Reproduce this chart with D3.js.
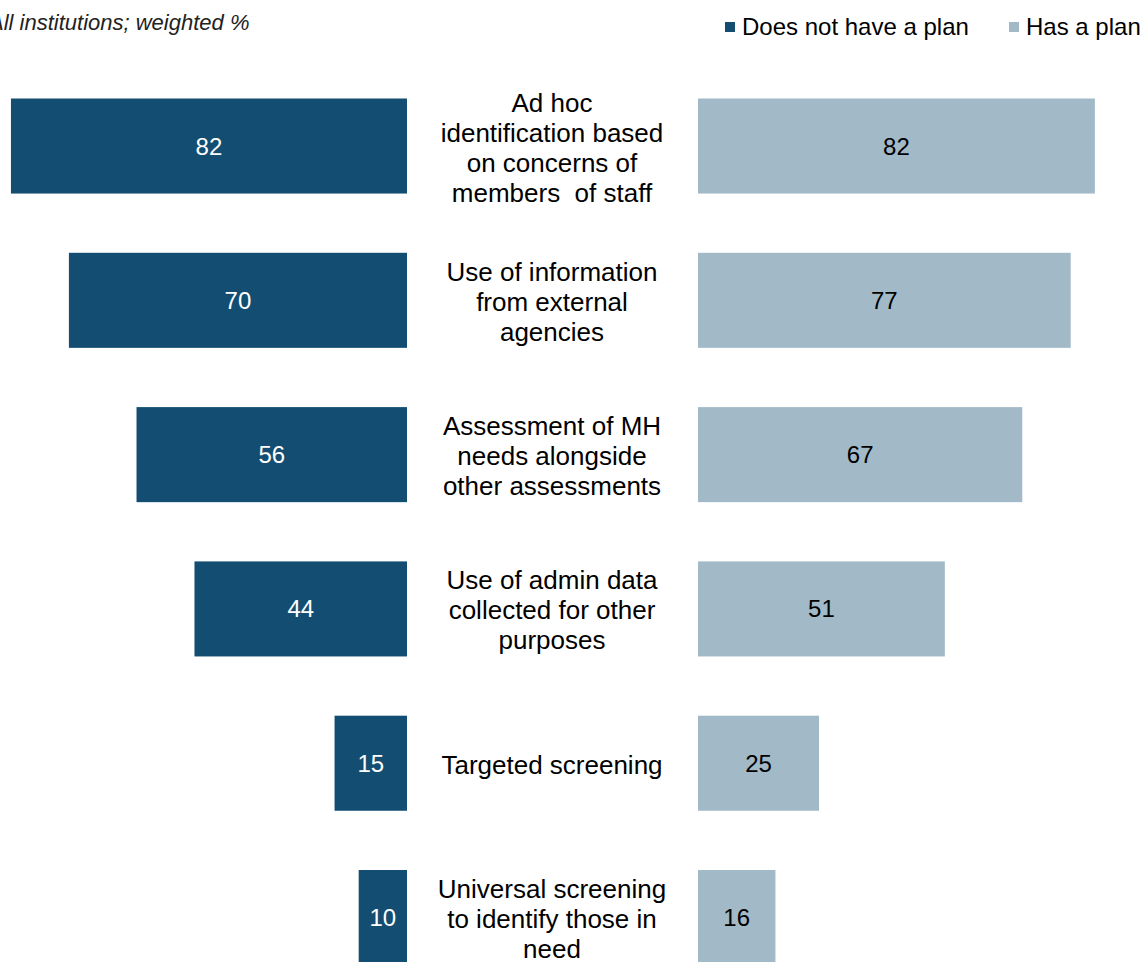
<!DOCTYPE html>
<html><head><meta charset="utf-8">
<script src="https://cdn.jsdelivr.net/npm/d3@7"></script>
<style>
html,body{margin:0;padding:0;background:#fff;overflow:hidden;}
text{font-family:"Liberation Sans",Arial,sans-serif;}
</style></head>
<body><svg id="c" width="1142" height="962"></svg>
<script>
const categories = [
  "Ad hoc identification based on concerns of members of staff",
  "Use of information from external agencies",
  "Assessment of MH needs alongside other assessments",
  "Use of admin data collected for other purposes",
  "Targeted screening",
  "Universal screening to identify those in need"
];
const categoryLines = [
  ["Ad hoc", "identification based", "on concerns of", "members  of staff"],
  ["Use of information", "from external", "agencies"],
  ["Assessment of MH", "needs alongside", "other assessments"],
  ["Use of admin data", "collected for other", "purposes"],
  ["Targeted screening"],
  ["Universal screening", "to identify those in", "need"]
];
const noPlan = [82, 70, 56, 44, 15, 10];
const hasPlan = [82, 77, 67, 51, 25, 16];
const seriesNames = ["Does not have a plan", "Has a plan"];
const subtitle = "All institutions; weighted %";

const colDark = "#134e72", colLight = "#a2b9c8";
const svg = d3.select("#c");

const y = d3.scaleBand().domain(categories).range([98.5, 98.5 + 154.3 * 5.616]).paddingInner(0.384).paddingOuter(0);
const xL = d3.scaleLinear().domain([0, 100]).range([407, 407 - 483]);
const xR = d3.scaleLinear().domain([0, 100]).range([698, 698 + 484]);

svg.selectAll("rect.l").data(categories).join("rect")
  .attr("class", "l")
  .attr("x", (d, i) => xL(noPlan[i]))
  .attr("width", (d, i) => xL(0) - xL(noPlan[i]))
  .attr("y", d => y(d)).attr("height", y.bandwidth())
  .attr("fill", colDark);
svg.selectAll("rect.r").data(categories).join("rect")
  .attr("class", "r")
  .attr("x", xR(0))
  .attr("width", (d, i) => xR(hasPlan[i]) - xR(0))
  .attr("y", d => y(d)).attr("height", y.bandwidth())
  .attr("fill", colLight);

svg.selectAll("text.vl").data(categories).join("text")
  .attr("class", "vl")
  .attr("x", (d, i) => (xL(noPlan[i]) + xL(0)) / 2)
  .attr("y", d => y(d) + y.bandwidth() / 2 + 8.5)
  .attr("text-anchor", "middle").attr("font-size", 24).attr("fill", "#fff")
  .text((d, i) => noPlan[i]);
svg.selectAll("text.vr").data(categories).join("text")
  .attr("class", "vr")
  .attr("x", (d, i) => (xR(hasPlan[i]) + xR(0)) / 2)
  .attr("y", d => y(d) + y.bandwidth() / 2 + 8.5)
  .attr("text-anchor", "middle").attr("font-size", 24).attr("fill", "#000")
  .text((d, i) => hasPlan[i]);

const lh = 30;
const cg = svg.selectAll("text.cat").data(categories).join("text")
  .attr("class", "cat")
  .attr("text-anchor", "middle").attr("font-size", 26).attr("fill", "#000")
  .style("white-space", "pre");
cg.each(function (d, i) {
  const lines = categoryLines[i];
  const c = y(d) + y.bandwidth() / 2 + 1.5;
  const first = c - (lines.length - 1) * lh / 2 + 9;
  d3.select(this).selectAll("tspan").data(lines).join("tspan")
    .attr("x", 552).attr("y", (l, j) => first + j * lh).text(l => l);
});

svg.append("text").attr("x", -11).attr("y", 30).attr("font-size", 22)
  .attr("font-style", "italic").attr("fill", "#222").text(subtitle);

const legX = [725, 1009];
const legG = svg.selectAll("g.leg").data(seriesNames).join("g").attr("class", "leg")
  .attr("transform", (d, i) => `translate(${legX[i]},0)`);
legG.append("rect").attr("x", 0).attr("y", 22).attr("width", 10).attr("height", 10)
  .attr("fill", (d, i) => i === 0 ? colDark : colLight);
legG.append("text").attr("x", 17).attr("y", 35).attr("font-size", 24).attr("fill", "#000").text(d => d);
</script>
</body></html>
